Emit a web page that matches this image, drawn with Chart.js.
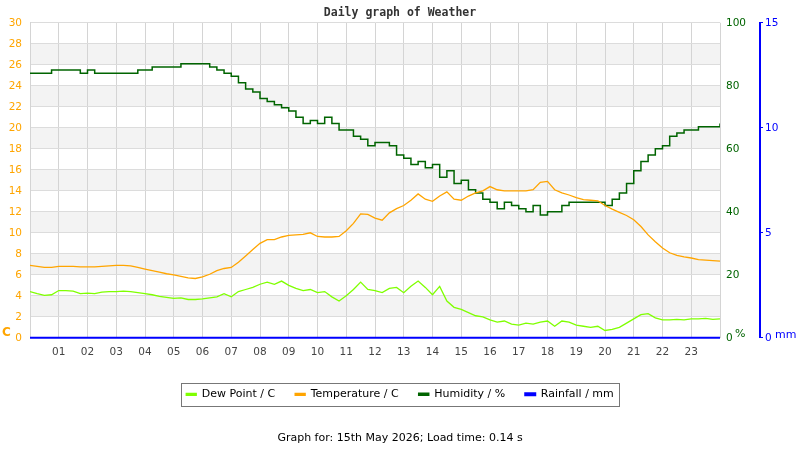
<!DOCTYPE html>
<html>
<head>
<meta charset="utf-8">
<title>Daily graph of Weather</title>
<script src="https://cdn.jsdelivr.net/npm/chart.js@4.4.1/dist/chart.umd.min.js"></script>
<style>
    html, body { margin: 0; padding: 0; background: #ffffff; }
    #wrap { width: 800px; height: 450px; position: relative; }
</style>
</head>
<body>
<div id="wrap"><canvas id="myChart"></canvas></div>
<script>
// readings every 15 minutes, 00:00 .. 24:00
var stepHours = 0.25;

var temperature = [
    6.9, 6.8, 6.7, 6.7,   6.8, 6.8, 6.8, 6.75,   6.75, 6.75, 6.8, 6.85,   6.9, 6.9, 6.85, 6.7,
    6.55, 6.4, 6.25, 6.1,   6.0, 5.85, 5.7, 5.65,   5.8, 6.05, 6.4, 6.6,   6.7, 7.2, 7.8, 8.4,
    9.0, 9.35, 9.35, 9.6,   9.75, 9.8, 9.85, 10.0,   9.65, 9.6, 9.6, 9.65,   10.2, 10.9, 11.8, 11.75,
    11.4, 11.2, 11.9, 12.3,   12.6, 13.1, 13.7, 13.2,   13.0, 13.5, 13.9, 13.2,   13.1, 13.5, 13.8, 14.0,
    14.4, 14.1, 14.0, 14.0,   14.0, 14.0, 14.1, 14.8,   14.9, 14.1, 13.8, 13.6,   13.35, 13.15, 13.1, 13.05,
    12.6, 12.25, 11.95, 11.65,   11.25, 10.6, 9.8, 9.15,   8.55, 8.1, 7.85, 7.7,   7.6, 7.45, 7.4, 7.35,
    7.3
];

var dewPoint = [
    4.4, 4.2, 4.05, 4.1,   4.5, 4.5, 4.45, 4.2,   4.25, 4.2, 4.35, 4.4,   4.4, 4.45, 4.4, 4.3,
    4.2, 4.1, 3.95, 3.85,   3.75, 3.8, 3.65, 3.65,   3.7, 3.8, 3.9, 4.2,   3.9, 4.4, 4.6, 4.8,
    5.1, 5.3, 5.1, 5.4,   5.0, 4.7, 4.5, 4.6,   4.3, 4.4, 3.9, 3.5,   4.0, 4.6, 5.3, 4.6,
    4.5, 4.3, 4.7, 4.8,   4.3, 4.9, 5.4, 4.8,   4.1, 4.9, 3.5, 2.9,   2.7, 2.4, 2.1, 2.0,
    1.7, 1.5, 1.6, 1.3,   1.2, 1.4, 1.3, 1.5,   1.6, 1.1, 1.6, 1.5,   1.2, 1.1, 1.0, 1.1,
    0.7, 0.8, 1.0, 1.4,   1.8, 2.2, 2.3, 1.9,   1.7, 1.7, 1.75, 1.7,   1.8, 1.8, 1.85, 1.75,
    1.8
];

var humidity = [
    84, 84, 84, 85,   85, 85, 85, 84,   85, 84, 84, 84,   84, 84, 84, 85,
    85, 86, 86, 86,   86, 87, 87, 87,   87, 86, 85, 84,   83, 81, 79, 78,
    76, 75, 74, 73,   72, 70, 68, 69,   68, 70, 68, 66,   66, 64, 63, 61,
    62, 62, 61, 58,   57, 55, 56, 54,   55, 51, 53, 49,   50, 47, 46, 44,
    43, 41, 43, 42,   41, 40, 42, 39,   40, 40, 42, 43,   43, 43, 43, 43,
    42, 44, 46, 49,   53, 56, 58, 60,   61, 64, 65, 66,   66, 67, 67, 67,
    68
];

var rainfall = [0, 0];
var rainHours = [0, 24];

var seriesNames = ["Dew Point / C", "Temperature / C", "Humidity / %", "Rainfall / mm"];
var seriesColors = ["#7fff00", "#ffa500", "#006400", "#0000ff"];
var hourLabels = ["01", "02", "03", "04", "05", "06", "07", "08", "09", "10", "11", "12",
    "13", "14", "15", "16", "17", "18", "19", "20", "21", "22", "23"];

function toPoints(values, hours) {
    var pts = [];
    for (var i = 0; i < values.length; i++) {
        pts.push({ x: hours ? hours[i] : i * stepHours, y: values[i] });
    }
    return pts;
}

var tickFont = { family: "'DejaVu Sans'", size: 10.5 };

// grey bands behind every other 2 C step
var bandPlugin = {
    id: "bands",
    beforeDraw: function (chart) {
        var y = chart.scales.y, area = chart.chartArea, ctx = chart.ctx;
        ctx.save();
        ctx.fillStyle = "#f3f3f3";
        for (var v = 2; v < 30; v += 4) {
            var top = y.getPixelForValue(v + 2), bot = y.getPixelForValue(v);
            ctx.fillRect(area.left, top, area.right - area.left, bot - top);
        }
        ctx.restore();
    }
};

// unit labels and the legend frame
var extrasPlugin = {
    id: "extras",
    afterDraw: function (chart) {
        var ctx = chart.ctx, area = chart.chartArea;
        ctx.save();
        ctx.textBaseline = "middle";
        ctx.textAlign = "left";
        ctx.fillStyle = "#ffa500";
        ctx.font = "bold 12px 'DejaVu Sans'";
        ctx.fillText("C", 2, area.bottom - 5);
        ctx.font = "11px 'DejaVu Sans'";
        ctx.fillStyle = "#006400";
        ctx.fillText("%", chart.scales.yH.left + 15, area.bottom - 4);
        ctx.fillStyle = "#0000ff";
        ctx.fillText("mm", chart.scales.yR.left + 15, area.bottom - 3);

        var boxes = chart.legend.legendHitBoxes;
        if (boxes && boxes.length) {
            var l = boxes[0].left, r = boxes[boxes.length - 1].left + boxes[boxes.length - 1].width;
            var t = boxes[0].top, b = boxes[0].top + boxes[0].height;
            ctx.strokeStyle = "#777777";
            ctx.lineWidth = 1;
            ctx.strokeRect(Math.round(l - 5) + 0.5, Math.round(t - 6) + 0.5, Math.round(r - l + 10), Math.round(b - t + 12));
        }
        ctx.restore();
    }
};

var ctx = document.getElementById("myChart").getContext("2d");
var myChart = new Chart(ctx, {
    type: "line",
    data: {
        datasets: [{
            label: seriesNames[0],
            data: toPoints(dewPoint),
            yAxisID: "y",
            borderColor: seriesColors[0],
            backgroundColor: seriesColors[0],
            borderWidth: 1.3
        }, {
            label: seriesNames[1],
            data: toPoints(temperature),
            yAxisID: "y",
            borderColor: seriesColors[1],
            backgroundColor: seriesColors[1],
            borderWidth: 1.3
        }, {
            label: seriesNames[2],
            data: toPoints(humidity),
            yAxisID: "yH",
            stepped: "before",
            borderColor: seriesColors[2],
            backgroundColor: seriesColors[2],
            borderWidth: 1.5
        }, {
            label: seriesNames[3],
            data: toPoints(rainfall, rainHours),
            yAxisID: "yR",
            clip: 3,
            borderColor: seriesColors[3],
            backgroundColor: seriesColors[3],
            borderWidth: 2
        }]
    },
    options: {
        responsive: true,
        maintainAspectRatio: false,
        animation: false,
        events: [],
        elements: { point: { radius: 0 }, line: { tension: 0, fill: false } },
        layout: { padding: 0 },
        scales: {
            x: {
                type: "linear",
                min: 0,
                max: 24,
                ticks: {
                    stepSize: 1,
                    color: "#444444",
                    font: tickFont,
                    padding: 8,
                    maxRotation: 0,
                    autoSkip: false,
                    callback: function (v) { return hourLabels[v - 1] || ""; }
                },
                grid: { color: "#d4d4d4", drawTicks: false },
                border: { color: "#d4d4d4" },
                afterFit: function (s) { s.height = 31; }
            },
            y: {
                position: "left",
                min: 0,
                max: 30,
                ticks: { stepSize: 2, color: "#ffa500", font: tickFont, padding: 8 },
                grid: { color: "#dcdcdc", drawTicks: false },
                border: { color: "#d4d4d4" },
                afterFit: function (s) { s.width = 30; }
            },
            yH: {
                position: "right",
                min: 0,
                max: 100,
                ticks: { stepSize: 20, color: "#006400", font: tickFont, padding: 6 },
                grid: { display: false, drawTicks: false },
                border: { display: false },
                afterFit: function (s) { s.width = 40; }
            },
            yR: {
                position: "right",
                min: 0,
                max: 15,
                ticks: { stepSize: 5, color: "#0000ff", font: tickFont, padding: 2 },
                grid: { drawOnChartArea: false, drawTicks: true, tickLength: 3, color: "#0000ff" },
                border: { display: true, color: "#0000ff", width: 2 },
                afterFit: function (s) { s.width = 40; }
            }
        },
        plugins: {
            title: {
                display: true,
                text: "Daily graph of Weather",
                color: "#333333",
                font: { family: "'DejaVu Sans Mono'", size: 11.5, weight: "bold" },
                padding: { top: 6, bottom: 3 }
            },
            subtitle: {
                display: true,
                position: "bottom",
                text: "Graph for: 15th May 2026; Load time: 0.14 s",
                color: "#000000",
                font: { family: "'DejaVu Sans'", size: 11 },
                padding: { top: 22, bottom: 5 }
            },
            legend: {
                position: "bottom",
                labels: {
                    boxWidth: 10,
                    boxHeight: 2,
                    padding: 20,
                    color: "#000000",
                    font: { family: "'DejaVu Sans'", size: 11 }
                }
            },
            tooltip: { enabled: false }
        }
    },
    plugins: [bandPlugin, extrasPlugin]
});
</script>
</body>
</html>
